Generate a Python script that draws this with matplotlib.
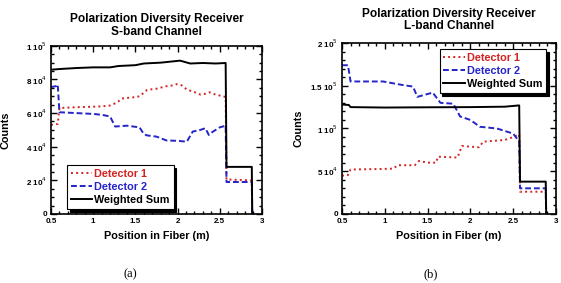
import matplotlib
matplotlib.use("Agg")
import matplotlib.pyplot as plt
from matplotlib.ticker import MultipleLocator, FuncFormatter

plt.rcParams['font.family'] = ['Liberation Sans', 'DejaVu Sans']

# ---- (a) S-band channel ----
s_det1_x = [0.50, 0.58, 0.60, 0.80, 1.00, 1.10, 1.20, 1.23, 1.30, 1.34, 1.50, 1.55, 1.62, 1.64,
            1.75, 1.87, 1.95, 1.99, 2.05, 2.11, 2.20, 2.27, 2.33, 2.38, 2.45, 2.54, 2.57,
            2.58, 2.88, 2.885]
s_det1_y = [53000, 53500, 63000, 63500, 63800, 64000, 64500, 65000, 67000, 68700, 69500, 70000, 73000, 73800,
            74500, 76000, 76500, 77200, 76500, 74000, 72500, 71000, 71500, 72400, 71000, 70000, 69500,
            20500, 20000, 0]
s_det2_x = [0.50, 0.56, 0.58, 0.60, 0.80, 1.00, 1.10, 1.20, 1.26, 1.40, 1.55, 1.60, 1.64, 1.75,
            1.87, 2.00, 2.11, 2.18, 2.27, 2.33, 2.37, 2.42, 2.50, 2.57, 2.58, 2.88, 2.885]
s_det2_y = [75500, 76000, 77000, 60500, 60000, 59500, 59000, 58000, 52000, 52500, 51500, 47500, 46700, 46000,
            43700, 43500, 43000, 49000, 50000, 51000, 47000, 49000, 51500, 52500, 19000, 19000, 0]
s_sum_x = [0.50, 0.60, 0.80, 1.00, 1.20, 1.30, 1.50, 1.60, 1.80, 2.03, 2.15, 2.30, 2.45, 2.57,
           2.58, 2.88, 2.885]
s_sum_y = [85800, 86200, 86800, 87200, 87200, 88000, 88500, 89500, 90000, 91200, 89500, 89800, 89500, 89800,
           28000, 28000, 0]

# ---- (b) L-band channel ----
l_det1_x = [0.50, 0.57, 0.60, 0.90, 1.10, 1.15, 1.35, 1.40, 1.50, 1.60, 1.62, 1.85, 1.90, 2.10,
            2.15, 2.40, 2.50, 2.57, 2.58, 2.88, 2.885]
l_det1_y = [44800, 45500, 52000, 52500, 53000, 57000, 57000, 62000, 60000, 60000, 67000, 66000, 79500, 78000,
            84600, 86500, 90000, 93000, 26000, 26000, 0]
l_det2_x = [0.50, 0.57, 0.60, 0.98, 1.20, 1.33, 1.38, 1.56, 1.65, 1.80, 1.88, 2.00, 2.11, 2.31,
            2.50, 2.57, 2.58, 2.88, 2.885]
l_det2_y = [174000, 174000, 155000, 155000, 151000, 149000, 137000, 142000, 130000, 129000, 114000, 110000,
            102000, 100000, 94000, 84600, 30000, 30000, 0]
l_sum_x = [0.50, 0.58, 0.60, 1.00, 1.50, 2.00, 2.40, 2.57, 2.58, 2.88, 2.885]
l_sum_y = [128000, 127500, 125000, 124500, 124800, 125000, 125500, 127000, 37800, 37800, 0]

RED = '#d42222'
BLUE = '#2424c8'


def sci_fmt(v, pos):
    if v == 0:
        return '0'
    exp = 0
    m = v
    while m >= 10:
        m /= 10.0
        exp += 1
    return '%g 10$^{%d}$' % (m, exp)


def style_axes(ax, ymax, ymajor, yminor):
    ax.set_xlim(0.5, 3)
    ax.set_ylim(0, ymax)
    ax.xaxis.set_major_locator(MultipleLocator(0.5))
    ax.xaxis.set_minor_locator(MultipleLocator(0.1))
    ax.yaxis.set_major_locator(MultipleLocator(ymajor))
    ax.yaxis.set_minor_locator(MultipleLocator(yminor))
    ax.xaxis.set_major_formatter(FuncFormatter(lambda v, p: '%g' % v))
    ax.yaxis.set_major_formatter(FuncFormatter(sci_fmt))
    ax.tick_params(which='both', direction='in', top=True, right=True, width=1)
    ax.tick_params(which='major', length=4, labelsize=5.8, pad=3)
    ax.tick_params(which='minor', length=2)
    for lab in ax.get_xticklabels() + ax.get_yticklabels():
        lab.set_fontweight('bold')
    for s in ax.spines.values():
        s.set_linewidth(1.2)
    ax.set_xlabel('Position in Fiber (m)', fontsize=7.8, fontweight='bold', labelpad=4)
    ax.set_ylabel('Counts', fontsize=7.8, fontweight='bold')


def add_legend(ax, loc, anchor):
    leg = ax.legend(loc=loc, bbox_to_anchor=anchor, fontsize=7.8, frameon=True, fancybox=False,
                    shadow={'color': 'black', 'alpha': 1}, edgecolor='black', handlelength=2.0,
                    handletextpad=0.2, borderpad=0.35, labelspacing=0.3, borderaxespad=0)
    leg.get_frame().set_linewidth(0.8)
    for txt, c in zip(leg.get_texts(), [RED, BLUE, 'black']):
        txt.set_color(c)
        txt.set_fontweight('bold')


fig = plt.figure(figsize=(5.61, 2.83), dpi=100)

ax1 = fig.add_axes([0.0909, 0.244, 0.376, 0.594])
ax1.plot(s_det1_x, s_det1_y, color=RED, ls=':', lw=1.4, label='Detector 1')
ax1.plot(s_det2_x, s_det2_y, color=BLUE, ls='--', lw=1.4, label='Detector 2', dashes=(3, 1.5))
ax1.plot(s_sum_x, s_sum_y, color='black', ls='-', lw=1.4, label='Weighted Sum')
style_axes(ax1, 100000, 20000, 5000)
ax1.set_title('Polarization Diversity Receiver\nS-band Channel', fontsize=8.6, fontweight='bold',
              linespacing=1.05, pad=8)
add_legend(ax1, 'lower left', (0.075, 0.03))
ax1.yaxis.set_label_coords(-0.19, 0.5)

ax2 = fig.add_axes([0.6096, 0.244, 0.3815, 0.604])
ax2.plot(l_det1_x, l_det1_y, color=RED, ls=':', lw=1.4, label='Detector 1')
ax2.plot(l_det2_x, l_det2_y, color=BLUE, ls='--', lw=1.4, label='Detector 2', dashes=(3, 1.5))
ax2.plot(l_sum_x, l_sum_y, color='black', ls='-', lw=1.4, label='Weighted Sum')
style_axes(ax2, 200000, 50000, 10000)
ax2.set_title('Polarization Diversity Receiver\nL-band Channel', fontsize=8.6, fontweight='bold',
              linespacing=1.05, pad=10)
add_legend(ax2, 'upper right', (0.955, 0.965))
ax2.yaxis.set_label_coords(-0.18, 0.5)

fig.text(0.232, 0.032, '(a)', ha='center', va='center', fontsize=9, family='Liberation Serif')
fig.text(0.767, 0.032, '(b)', ha='center', va='center', fontsize=9, family='Liberation Serif')

fig.savefig('out.png', dpi=100)
